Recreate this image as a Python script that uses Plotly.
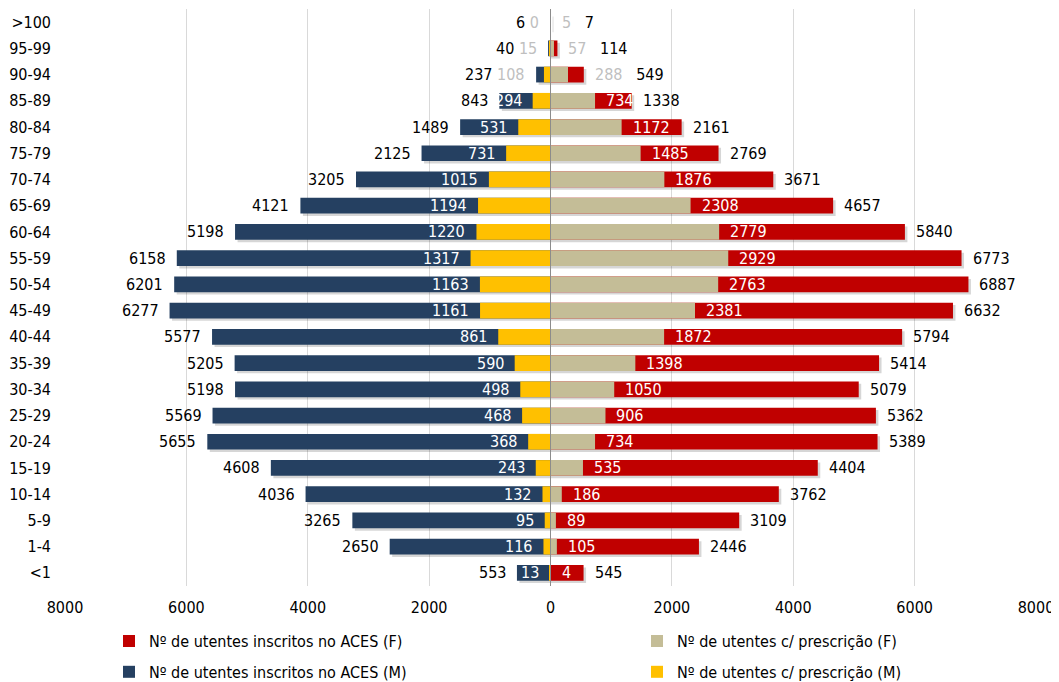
import plotly.graph_objects as go

# ---------------- data ----------------
categories = [">100", "95-99", "90-94", "85-89", "80-84", "75-79", "70-74", "65-69",
              "60-64", "55-59", "50-54", "45-49", "40-44", "35-39", "30-34", "25-29",
              "20-24", "15-19", "10-14", "5-9", "1-4", "<1"]

m_total = [6, 40, 237, 843, 1489, 2125, 3205, 4121, 5198, 6158, 6201, 6277, 5577, 5205,
           5198, 5569, 5655, 4608, 4036, 3265, 2650, 553]
m_presc = [0, 15, 108, 294, 531, 731, 1015, 1194, 1220, 1317, 1163, 1161, 861, 590,
           498, 468, 368, 243, 132, 95, 116, 13]
f_presc = [5, 57, 288, 734, 1172, 1485, 1876, 2308, 2779, 2929, 2763, 2381, 1872, 1398,
           1050, 906, 734, 535, 186, 89, 105, 4]
f_total = [7, 114, 549, 1338, 2161, 2769, 3671, 4657, 5840, 6773, 6887, 6632, 5794, 5414,
           5079, 5362, 5389, 4404, 3762, 3109, 2446, 545]

tick_vals = [-8000, -6000, -4000, -2000, 0, 2000, 4000, 6000, 8000]
tick_text = ["8000", "6000", "4000", "2000", "0", "2000", "4000", "6000", "8000"]

series_names = {
    "f_total": "Nº de utentes inscritos no ACES (F)",
    "f_presc": "Nº de utentes c/ prescrição (F)",
    "m_total": "Nº de utentes inscritos no ACES (M)",
    "m_presc": "Nº de utentes c/ prescrição (M)",
}

# ---------------- style ----------------
FONT = "DejaVu Sans Condensed, Tahoma, DejaVu Sans, sans-serif"
RED = "#C00000"
BEIGE = "#C4BD97"
BLUE = "#254061"
YELLOW = "#FFC000"
GRAY_LBL = "#BFBFBF"
SHADOW = "rgba(0,0,0,0.16)"
BAR_W = 0.6
X_RANGE = [-8000, 8000]

# page has an 8px body margin: size the figure so the plot lands where the reference has it
FIG_W, FIG_H = 1051, 674
M_L, M_R, M_T, M_B = 57, 23, 1, 96

plot_w_px = FIG_W - M_L - M_R
units_per_px = (X_RANGE[1] - X_RANGE[0]) / plot_w_px
shadow_dx = 2.5 * units_per_px          # drop-shadow shift (style, in data units)
shadow_dy = 0.09                         # drop-shadow shift in category units

fig = go.Figure()

# soft drop shadows (Excel-like) under the longest bar of each side
fig.add_trace(go.Bar(y=categories, x=f_total, base=shadow_dx, orientation="h",
                     width=BAR_W, offset=-BAR_W / 2 + shadow_dy,
                     marker=dict(color=SHADOW, line=dict(width=0)),
                     showlegend=False, hoverinfo="skip"))
fig.add_trace(go.Bar(y=categories, x=[-v for v in m_total], base=shadow_dx, orientation="h",
                     width=BAR_W, offset=-BAR_W / 2 + shadow_dy,
                     marker=dict(color=SHADOW, line=dict(width=0)),
                     showlegend=False, hoverinfo="skip"))

fig.add_trace(go.Bar(y=categories, x=f_total, orientation="h", name=series_names["f_total"],
                     marker=dict(color=RED, line=dict(width=0)), width=BAR_W,
                     legend="legend", legendgroup="g1", hoverinfo="skip"))
fig.add_trace(go.Bar(y=categories, x=f_presc, orientation="h", name=series_names["f_presc"],
                     marker=dict(color=BEIGE, line=dict(width=0)), width=BAR_W,
                     legend="legend2", legendgroup="g2", hoverinfo="skip"))
fig.add_trace(go.Bar(y=categories, x=[-v for v in m_total], orientation="h",
                     name=series_names["m_total"],
                     marker=dict(color=BLUE, line=dict(width=0)), width=BAR_W,
                     legend="legend", legendgroup="g3", hoverinfo="skip"))
fig.add_trace(go.Bar(y=categories, x=[-v for v in m_presc], orientation="h",
                     name=series_names["m_presc"],
                     marker=dict(color=YELLOW, line=dict(width=0)), width=BAR_W,
                     legend="legend2", legendgroup="g4", hoverinfo="skip"))

# ---------------- data labels ----------------
annotations = []
PAD = 9
for cat, mt, mp, fp, ft in zip(categories, m_total, m_presc, f_presc, f_total):
    # male side
    if mt - mp < 400:
        annotations.append(dict(
            x=-mt, y=cat, xref="x", yref="y", xanchor="right", xshift=-PAD, showarrow=False,
            text=f"{mt} <span style='color:{GRAY_LBL}'>{mp}</span>",
            font=dict(family=FONT, size=16, color="#000000")))
    else:
        annotations.append(dict(
            x=-mt, y=cat, xref="x", yref="y", xanchor="right", xshift=-PAD, showarrow=False,
            text=str(mt), font=dict(family=FONT, size=16, color="#000000")))
        annotations.append(dict(
            x=-mp, y=cat, xref="x", yref="y", xanchor="right", xshift=-PAD, showarrow=False,
            text=str(mp), font=dict(family=FONT, size=16, color="#FFFFFF")))
    # female side
    if ft - fp < 400:
        annotations.append(dict(
            x=ft, y=cat, xref="x", yref="y", xanchor="left", xshift=PAD, showarrow=False,
            text=f"<span style='color:{GRAY_LBL}'>{fp}</span>\u00a0\u00a0\u00a0{ft}",
            font=dict(family=FONT, size=16, color="#000000")))
    else:
        annotations.append(dict(
            x=ft, y=cat, xref="x", yref="y", xanchor="left", xshift=PAD, showarrow=False,
            text=str(ft), font=dict(family=FONT, size=16, color="#000000")))
        annotations.append(dict(
            x=fp, y=cat, xref="x", yref="y", xanchor="left", xshift=PAD, showarrow=False,
            text=str(fp), font=dict(family=FONT, size=16, color="#FFFFFF")))

legend_common = dict(
    xref="container", yref="container", xanchor="left", yanchor="top",
    orientation="v", traceorder="grouped", tracegroupgap=7,
    font=dict(family=FONT, size=16, color="#000000"),
    bgcolor="rgba(0,0,0,0)", borderwidth=0,
)

fig.update_layout(
    width=FIG_W, height=FIG_H,
    margin=dict(l=M_L, r=M_R, t=M_T, b=M_B, autoexpand=False),
    paper_bgcolor="white", plot_bgcolor="white",
    barmode="overlay",
    font=dict(family=FONT, size=16, color="#000000"),
    xaxis=dict(range=X_RANGE, tickvals=tick_vals, ticktext=tick_text,
               showgrid=True, gridcolor="#D9D9D9", gridwidth=1, zeroline=False,
               showline=False, ticks="", ticklabelstandoff=10, tickangle=0,
               tickfont=dict(family=FONT, size=16, color="#000000"), fixedrange=True),
    yaxis=dict(type="category", categoryorder="array", categoryarray=categories,
               autorange="reversed", showgrid=False, zeroline=False, showline=False,
               ticks="", ticklabelstandoff=13,
               tickfont=dict(family=FONT, size=16, color="#000000"), fixedrange=True),
    showlegend=True,
    legend=dict(legend_common, x=0.0961, y=0.0859),
    legend2=dict(legend_common, x=0.5985, y=0.0859),
    annotations=annotations,
    shapes=[dict(type="line", xref="x", yref="paper", x0=0, x1=0, y0=0, y1=1,
                 line=dict(color="#8C8C8C", width=1), layer="above")],
)

fig.write_html("out.html")
